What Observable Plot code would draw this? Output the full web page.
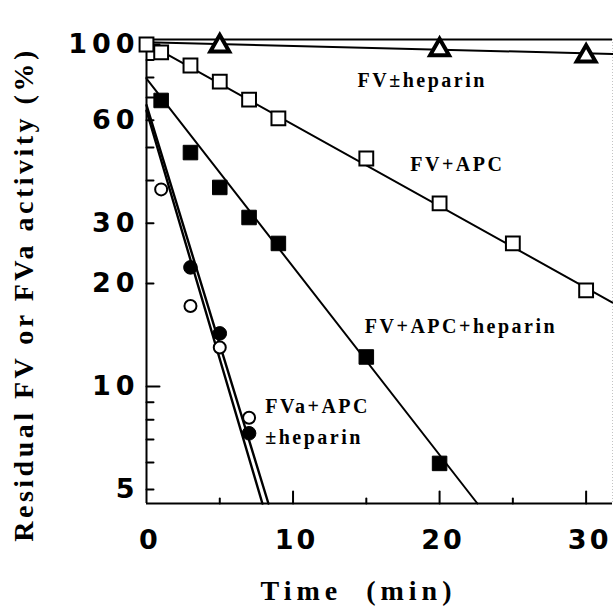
<!DOCTYPE html>
<html>
<head>
<meta charset="utf-8">
<script src="https://cdn.jsdelivr.net/npm/d3@7"></script>
<script src="https://cdn.jsdelivr.net/npm/@observablehq/plot@0.6"></script>
<style>
  html, body { margin: 0; padding: 0; background: white; }
  #chart svg { display: block; }
</style>
</head>
<body>
<div id="chart"></div>
<script>
// ---- Data ----
// FV ± heparin (open triangles)
const fvHepT = [5, 20, 30];
const fvHepV = [99, 96.5, 92.5];
// FV + APC (open squares)
const fvApcT = [0, 1, 3, 5, 7, 9, 15, 20, 25, 30];
const fvApcV = [100, 94.8, 86.8, 77.9, 69.0, 60.8, 46.4, 34.3, 26.2, 19.1];
// FV + APC + heparin (filled squares)
const fvApcHepT = [1, 3, 5, 7, 9, 15, 20];
const fvApcHepV = [68.6, 48.3, 38.2, 31.2, 26.2, 12.2, 5.96];
// FVa + APC + heparin (filled circles)
const fvaHepT = [3, 5, 7];
const fvaHepV = [22.3, 14.3, 7.3];
// FVa + APC (open circles)
const fvaT = [1, 3, 5, 7];
const fvaV = [37.7, 17.2, 13.0, 8.1];

// fitted lines (end points)
const fitFvHepT = [0, 31.8],  fitFvHepV = [101.5, 93.8];
const fitFvApcT = [0, 31.8],  fitFvApcV = [101, 17.6];
const fitFvApcHepT = [0, 22.58], fitFvApcHepV = [79.5, 4.55];
const fitFvaHepT = [0, 7.91], fitFvaHepV = [64, 4.55];
const fitFvaT = [0, 8.32], fitFvaV = [66.5, 4.55];

// axes
const xDomain = [0, 31.8];
const yDomain = [4.55, 103.4];
const xMinorTicks = [5, 15, 25];
const xMajorTicks = [10, 20, 30];
const xLabelVals = [0, 10, 20, 30];
const xLabels = ["0", "10", "20", "30"];
const yMinorTicks = [5, 6, 7, 8, 9, 20, 30, 40, 50, 60, 70, 80, 90];
const yMajorTicks = [10, 100];
const yLabelVals = [5, 10, 20, 30, 60, 100];
const yLabels = ["5", "10", "20", "30", "60", "100"];

// annotations
const annoText = ["FV\u00B1heparin", "FV+APC", "FV+APC+heparin", "FVa+APC", "\u00B1heparin"];
const annoT = [14.4, 18.0, 14.9, 8.1, 8.1];
const annoV = [78.5, 44.6, 15.0, 8.75, 7.1];

const yTitle = "Residual FV or FVa activity (%)";
const xTitle = "Time  (min)";

// ---- build ----
const rows = (ts, vs) => ts.map((t, i) => ({t, v: vs[i]}));
const tickShape = {draw(context, l) { context.moveTo(0, 0); context.lineTo(0, -l); }};
const serif = "'Liberation Serif', 'Times New Roman', serif";
const sans = "'DejaVu Sans', Arial, sans-serif";

const plot = Plot.plot({
  width: 613,
  height: 607,
  marginLeft: 146,
  marginRight: 1,
  marginTop: 39,
  marginBottom: 104,
  x: {domain: xDomain, axis: null},
  y: {type: "log", domain: yDomain, axis: null},
  style: {background: "white", overflow: "visible"},
  marks: [
    // frame
    Plot.ruleX([xDomain[1]], {stroke: "#c4c4c4", strokeWidth: 1, strokeDasharray: "1,2"}),
    Plot.ruleY([yDomain[1]], {stroke: "black", strokeWidth: 2}),
    Plot.ruleY([yDomain[0]], {stroke: "black", strokeWidth: 2}),
    Plot.ruleX([0], {stroke: "black", strokeWidth: 2}),
    // ticks (inward)
    Plot.vector(yMinorTicks, {x: 0, y: d => d, rotate: 90, anchor: "start", length: 7, shape: tickShape, stroke: "black", strokeWidth: 2}),
    Plot.vector(yMajorTicks, {x: 0, y: d => d, rotate: 90, anchor: "start", length: 13, shape: tickShape, stroke: "black", strokeWidth: 2}),
    Plot.vector(xMinorTicks, {x: d => d, y: yDomain[0], rotate: 0, anchor: "start", length: 5, shape: tickShape, stroke: "black", strokeWidth: 2}),
    Plot.vector(xMajorTicks, {x: d => d, y: yDomain[0], rotate: 0, anchor: "start", length: 12, shape: tickShape, stroke: "black", strokeWidth: 2}),
    // tick labels
    Plot.text(yLabelVals, {x: 0, y: d => d, text: (d, i) => yLabels[i], textAnchor: "end", dx: -7, fontFamily: sans, fontWeight: "bold", fontSize: 27, fill: "black"}),
    Plot.text(xLabelVals, {x: d => d, y: yDomain[0], text: (d, i) => xLabels[i], textAnchor: "middle", dy: 37, dx: 3.5, fontFamily: sans, fontWeight: "bold", fontSize: 27, fill: "black"}),
    // fitted lines
    Plot.line(rows(fitFvHepT, fitFvHepV), {x: "t", y: "v", stroke: "black", strokeWidth: 2}),
    Plot.line(rows(fitFvApcT, fitFvApcV), {x: "t", y: "v", stroke: "black", strokeWidth: 2}),
    Plot.line(rows(fitFvApcHepT, fitFvApcHepV), {x: "t", y: "v", stroke: "black", strokeWidth: 2}),
    Plot.line(rows(fitFvaHepT, fitFvaHepV), {x: "t", y: "v", stroke: "black", strokeWidth: 2.4}),
    Plot.line(rows(fitFvaT, fitFvaV), {x: "t", y: "v", stroke: "black", strokeWidth: 2.4}),
    // points
    Plot.dot(rows(fvApcT, fvApcV), {x: "t", y: "v", symbol: "square", r: 7.8, fill: "white", stroke: "black", strokeWidth: 2}),
    Plot.dot(rows(fvHepT, fvHepV), {x: "t", y: "v", symbol: "triangle", r: 7, fill: "white", stroke: "black", strokeWidth: 4}),
    Plot.dot(rows(fvApcHepT, fvApcHepV), {x: "t", y: "v", symbol: "square", r: 8.2, fill: "black", stroke: "black", strokeWidth: 1}),
    Plot.dot(rows(fvaT, fvaV), {x: "t", y: "v", symbol: "circle", r: 6, fill: "white", stroke: "black", strokeWidth: 2}),
    Plot.dot(rows(fvaHepT, fvaHepV), {x: "t", y: "v", symbol: "circle", r: 6.8, fill: "black", stroke: "black", strokeWidth: 1}),
    // annotations
    Plot.text(annoText, {x: (d, i) => annoT[i], y: (d, i) => annoV[i], text: d => d, textAnchor: "start", lineAnchor: "middle", fontFamily: serif, fontWeight: "bold", fontSize: 20, fill: "black"}),
    // axis titles
    Plot.text([yTitle], {frameAnchor: "left", text: d => d, rotate: -90, dx: -122, dy: 23, textAnchor: "middle", lineAnchor: "middle", fontFamily: serif, fontWeight: "bold", fontSize: 28, fill: "black"}),
    Plot.text([xTitle], {frameAnchor: "bottom", text: d => d, dx: -21, dy: 88, textAnchor: "middle", lineAnchor: "middle", fontFamily: serif, fontWeight: "bold", fontSize: 28, fill: "black"})
  ]
});

document.getElementById("chart").appendChild(plot);

// letter spacing like the original typesetting (per text group)
const applySpacing = (t, s) => {
  t.setAttribute("letter-spacing", s);
  t.style.letterSpacing = s;
  t.style.whiteSpace = "pre";
};
const same = (a, b) => a.length === b.length && a.every((v, i) => v === b[i]);
plot.querySelectorAll("g").forEach(g => {
  const texts = Array.from(g.children).filter(c => c.tagName.toLowerCase() === "text");
  if (!texts.length) return;
  const contents = texts.map(t => t.textContent);
  let s = null;
  if (same(contents, yLabels)) s = "5px";
  else if (same(contents, xLabels)) s = "3px";
  else if (same(contents, annoText)) s = "2.5px";
  else if (same(contents, [yTitle])) s = "3.5px";
  else if (same(contents, [xTitle])) s = "5px";
  if (s) texts.forEach(t => applySpacing(t, s));
});
</script>
</body>
</html>
